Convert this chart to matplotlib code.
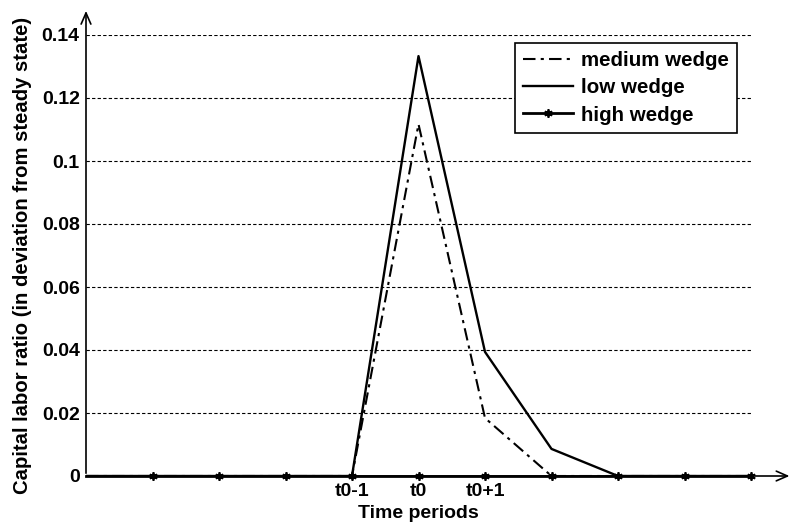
import matplotlib
matplotlib.use("Agg")
import matplotlib.pyplot as plt

periods = [0, 1, 2, 3, 4, 5, 6, 7, 8, 9, 10]
medium_wedge = [0, 0, 0, 0, 0, 0.1117, 0.0184, 0, 0, 0, 0]
low_wedge = [0, 0, 0, 0, 0, 0.1333, 0.0394, 0.0086, 0, 0, 0]
high_wedge = [0, 0, 0, 0, 0, 0, 0, 0, 0, 0, 0]
xtick_pos = [4, 5, 6]
xtick_labels = ["t0-1", "t0", "t0+1"]
ytick_vals = [0, 0.02, 0.04, 0.06, 0.08, 0.1, 0.12, 0.14]
ytick_labels = ["0", "0.02", "0.04", "0.06", "0.08", "0.1", "0.12", "0.14"]

plt.rcParams['font.family'] = ['Liberation Sans', 'DejaVu Sans']
plt.rcParams['font.weight'] = 'bold'

fs = 14
fig = plt.figure(figsize=(7.94, 5.27), dpi=100)
W, H = 794, 527
x0, x1, ytop, ybot = 86, 751, 35, 476
ax = fig.add_axes([x0 / W, (H - ybot) / H, (x1 - x0) / W, (ybot - ytop) / H])

ax.plot(periods, medium_wedge, color='black', lw=1.5, ls=(0, (6, 2.5, 1.5, 2.5)), label='medium wedge')
ax.plot(periods, low_wedge, color='black', lw=1.7, label='low wedge')
ax.plot(periods, high_wedge, color='black', lw=2.0, marker=(6, 2, 0), ms=6, mew=1.3,
        markevery=list(range(1, 11)), label='high wedge', clip_on=False, zorder=3)

ax.set_xlim(0, 10)
ax.set_ylim(0, 0.14)
ax.set_xticks(xtick_pos)
ax.set_xticklabels(xtick_labels, fontsize=fs, fontweight='bold')
ax.set_yticks(ytick_vals)
ax.set_yticklabels(ytick_labels, fontsize=fs, fontweight='bold')
ax.tick_params(axis='y', length=0, pad=4.5)
ax.tick_params(axis='x', length=0, pad=5)
for y in ytick_vals[1:]:
    ax.axhline(y, color='black', lw=0.8, ls=(0, (3, 2)), zorder=0)
for s in ax.spines.values():
    s.set_visible(False)

ax.annotate('', xy=(1.062, 0), xytext=(0, 0), xycoords='axes fraction',
            arrowprops=dict(arrowstyle='->,head_length=0.8,head_width=0.35', lw=1.2, color='black'),
            annotation_clip=False)
ax.annotate('', xy=(0, 1.061), xytext=(0, 0), xycoords='axes fraction',
            arrowprops=dict(arrowstyle='->,head_length=0.8,head_width=0.35', lw=1.2, color='black'),
            annotation_clip=False)

ax.set_xlabel('Time periods', fontsize=fs, fontweight='bold', labelpad=4)
ax.set_ylabel('Capital labor ratio (in deviation from steady state)', fontsize=14.6, fontweight='bold', labelpad=7)

leg = ax.legend(loc='upper right', bbox_to_anchor=((737 - x0) / (x1 - x0), (ybot - 43) / (ybot - ytop)),
                prop={'weight': 'bold', 'size': 14.8}, frameon=True, fancybox=False,
                edgecolor='black', handlelength=2.4, handletextpad=0.4, borderpad=0.4,
                labelspacing=0.4, borderaxespad=0)
leg.get_frame().set_linewidth(1.2)
leg.get_frame().set_alpha(1)

fig.savefig('out.png', dpi=100)
